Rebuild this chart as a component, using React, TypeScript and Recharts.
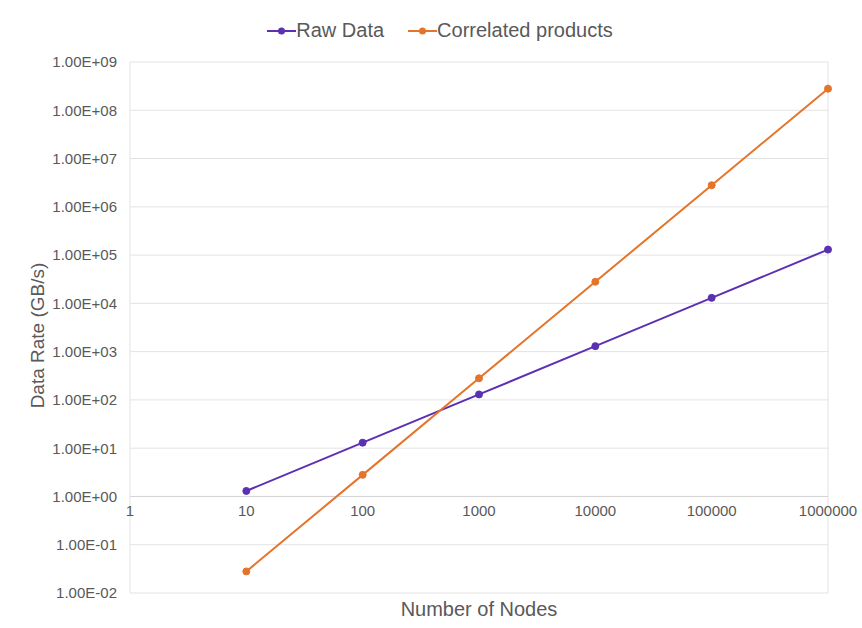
import { LineChart, Line, XAxis, YAxis, CartesianGrid, Legend, ReferenceLine, ReferenceDot } from 'recharts'

const nodes = [10, 100, 1000, 10000, 100000, 1000000]
const rawData = [1.3, 13, 130, 1300, 13000, 130000]
const correlated = [0.028, 2.8, 280, 28000, 2800000, 280000000]
const xTicks = [1, 10, 100, 1000, 10000, 100000, 1000000]
const yTicks = [1e-2, 1e-1, 1, 1e1, 1e2, 1e3, 1e4, 1e5, 1e6, 1e7, 1e8, 1e9]

const RAW_COLOR = '#5b30b3'
const CORR_COLOR = '#e5742b'
const FONT = '"Liberation Sans", Arial, sans-serif'
const TEXT = '#595959'

const data = nodes.map((n, i) => ({ nodes: n, raw: rawData[i], corr: correlated[i] }))

function sci(v: number) {
  const e = Math.round(Math.log10(v))
  const sign = e < 0 ? '-' : '+'
  return '1.00E' + sign + String(Math.abs(e)).padStart(2, '0')
}

function LegendBox() {
  const items = [
    { name: 'Raw Data', color: RAW_COLOR },
    { name: 'Correlated products', color: CORR_COLOR },
  ]
  return (
    <div style={{ height: 62, display: 'flex', justifyContent: 'center', alignItems: 'flex-start', paddingTop: 19, paddingLeft: 76, boxSizing: 'border-box', fontFamily: FONT, fontSize: 20, color: TEXT }}>
      {items.map((it) => (
        <div key={it.name} style={{ display: 'flex', alignItems: 'center', marginRight: 24 }}>
          <svg width={29} height={12}>
            <line x1={0} y1={6} x2={29} y2={6} stroke={it.color} strokeWidth={2} />
            <circle cx={14.5} cy={6} r={3.5} fill={it.color} />
          </svg>
          <span>{it.name}</span>
        </div>
      ))}
    </div>
  )
}

export default function App() {
  return (
    <div style={{ position: 'absolute', left: 0, top: 0, width: 862, height: 628, background: '#fff' }}>
      <LineChart width={862} height={628} data={data} margin={{ top: 0, right: 34, bottom: 0, left: 0 }}>
        <CartesianGrid stroke="#e3e3e3" strokeWidth={1} />
        <Legend verticalAlign="top" content={() => <LegendBox />} />
        <XAxis
          dataKey="nodes"
          type="number"
          scale="log"
          domain={[1, 1000000]}
          ticks={xTicks}
          tick={false}
          axisLine={false}
          tickLine={false}
          height={35}
          label={{ value: 'Number of Nodes', position: 'insideBottom', offset: 12, fill: TEXT, fontSize: 20, fontFamily: FONT }}
        />
        <YAxis
          type="number"
          scale="log"
          domain={[1e-2, 1e9]}
          ticks={yTicks}
          allowDataOverflow
          width={130}
          axisLine={false}
          tickLine={false}
          tickMargin={7}
          tickFormatter={sci}
          tick={{ fill: TEXT, fontSize: 15, fontFamily: FONT }}
          label={{
            content: ({ viewBox }: any) => {
              const cy = viewBox.y + viewBox.height / 2 + 8
              return (
                <text x={37} y={cy} transform={`rotate(-90 37 ${cy})`} textAnchor="middle" dominantBaseline="central" fill={TEXT} fontSize={19} fontFamily={FONT}>
                  Data Rate (GB/s)
                </text>
              )
            },
          }}
        />
        <ReferenceLine y={1} stroke="#d4d4d4" strokeWidth={1} />
        {xTicks.map((t) => (
          <ReferenceDot
            key={t}
            x={t}
            y={1}
            r={0}
            fill="none"
            stroke="none"
            label={{ value: String(t), position: 'bottom', offset: 9, fill: TEXT, fontSize: 15, fontFamily: FONT }}
          />
        ))}
        <Line
          type="linear"
          dataKey="raw"
          name="Raw Data"
          stroke={RAW_COLOR}
          strokeWidth={2}
          dot={{ r: 3.5, fill: RAW_COLOR, stroke: RAW_COLOR, strokeWidth: 1 }}
          isAnimationActive={false}
        />
        <Line
          type="linear"
          dataKey="corr"
          name="Correlated products"
          stroke={CORR_COLOR}
          strokeWidth={2}
          dot={{ r: 3.5, fill: CORR_COLOR, stroke: CORR_COLOR, strokeWidth: 1 }}
          isAnimationActive={false}
        />
      </LineChart>
    </div>
  )
}
